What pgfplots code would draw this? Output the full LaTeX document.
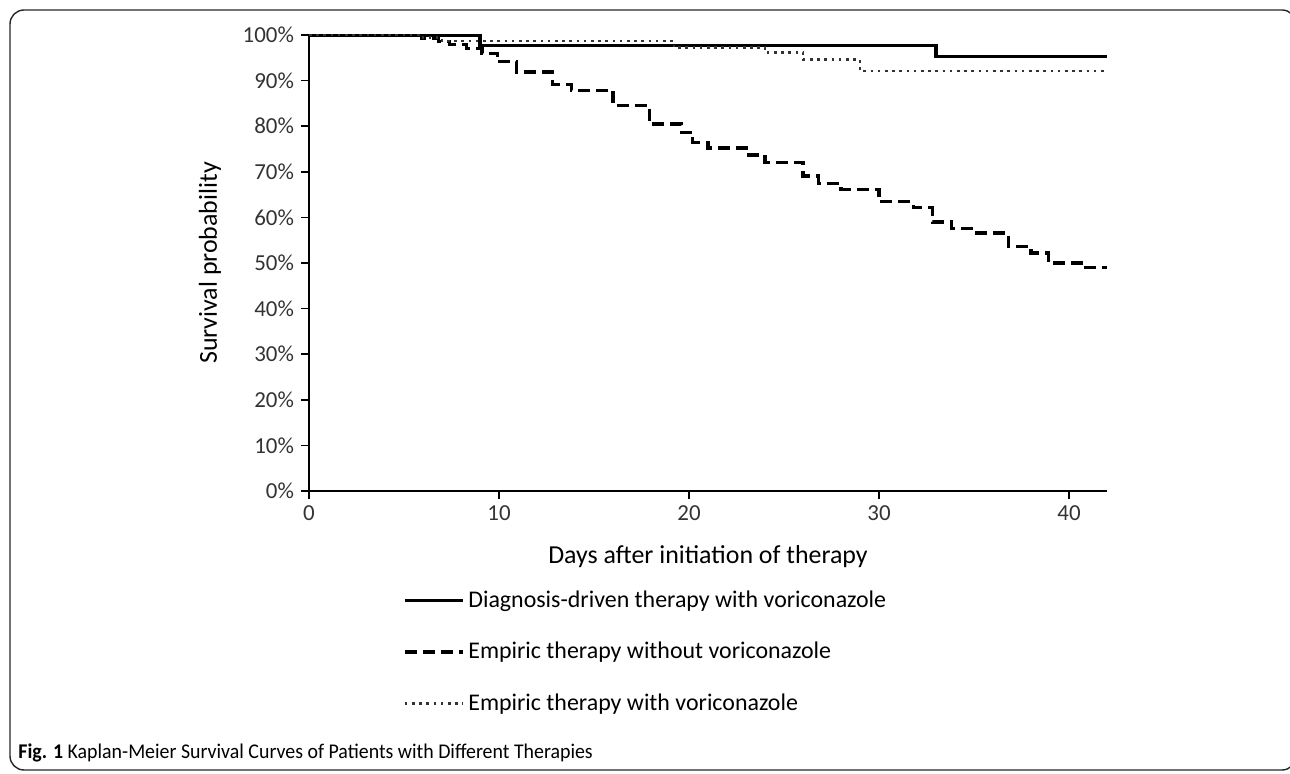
\documentclass[border=0pt]{standalone}
\usepackage{fontspec}
\setmainfont{Carlito}
\usepackage{pgfplots}
\pgfplotsset{compat=1.18}

\begin{document}
\begin{tikzpicture}

\begin{axis}[%
width=399bp,
height=228bp,
at={(154.5bp,141.5bp)},
anchor=south west,
scale only axis,
xmin=0,
xmax=42,
ymin=0,
ymax=100,
xtick={0,10,20,30,40},
ytick={0,10,...,100},
yticklabel={\pgfmathprintnumber{\tick}\%},
/pgf/number format/assume math mode=true,
axis x line*=bottom,
axis y line*=left,
axis line style={line width=1bp},
tick align=outside,
major tick length=4bp,
tick style={black, line width=0.8bp},
ticklabel style={font=\fontsize{11.5}{13}\selectfont, color=black!80},
xlabel={Days after initiation of therapy},
ylabel={Survival probability},
label style={font=\fontsize{13}{15}\selectfont},
xlabel style={at={(axis description cs:0.5,0)}, anchor=center, yshift=-33bp},
ylabel style={at={(axis description cs:-0.124,0.5)}, anchor=center},
legend style={at={(0.11,-0.20)}, anchor=north west, draw=none, fill=none,
  legend cell align=left, row sep=12bp, font=\fontsize{12}{14}\selectfont},
legend image code/.code={\draw[#1] (0bp,0bp) -- (29bp,0bp);}
]
% diagnosis-driven therapy with voriconazole
\addplot[const plot, black, line width=1.6bp] coordinates {
(0,100) (9,97.7) (33,95.3) (42,95.3)
};
\addlegendentry{Diagnosis-driven therapy with voriconazole}

% empiric therapy without voriconazole
\addplot[const plot, black, line width=1.6bp, dash pattern=on 6bp off 3bp] coordinates {
(0,100) (5.9,99.3) (6.8,98.6) (7.4,98.0) (8.3,97.1) (9.1,96.0) (9.9,94.1)
(10.9,91.9) (12.8,89.2) (13.8,87.9) (16.0,84.6) (17.9,80.5) (19.6,78.7)
(20.2,76.5) (21.0,75.2) (23.0,73.7) (24.0,72.1) (26.0,69.1) (26.8,67.5)
(28.0,66.2) (30.0,63.4) (31.8,62.1) (32.8,59.0) (33.8,57.5) (35.0,56.6)
(36.8,53.7) (38.0,52.2) (38.9,50.0) (40.8,49.0) (42,49.0)
};
\addlegendentry{Empiric therapy without voriconazole}

% empiric therapy with voriconazole
\addplot[const plot, black!80, line width=1.3bp, dash pattern=on 1.3bp off 2.3bp] coordinates {
(0,100) (6,99.4) (7,98.7) (19.2,97.3) (24,96.2) (26,94.6) (29,92.1) (42,92.1)
};
\addlegendentry{Empiric therapy with voriconazole}
\end{axis}

\draw[line width=0.7bp, black!85, rounded corners=7bp] (5bp,2bp) rectangle (648bp,382bp);
\node[anchor=west, inner sep=0pt, font=\fontsize{10.5}{12}\selectfont] at (9bp,10.5bp)
  {\scalebox{0.95}[1]{\textbf{Fig. 1} Kaplan-Meier Survival Curves of Patients with Different Therapies}};

\pgfresetboundingbox
\path[use as bounding box] (0,0) rectangle (645bp,387bp);
\end{tikzpicture}
\end{document}
